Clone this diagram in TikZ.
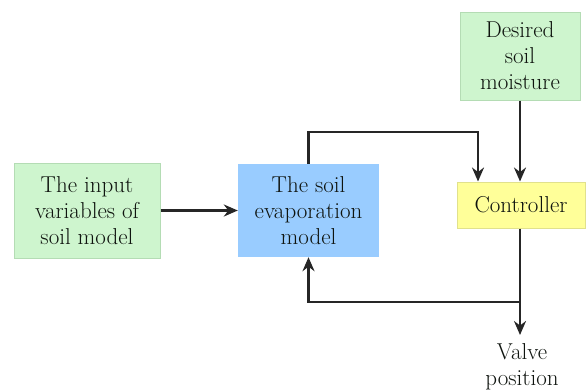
\documentclass[tikz,border=0pt]{standalone}
\usetikzlibrary{arrows.meta,calc}
\definecolor{gfill}{RGB}{206,245,206}
\definecolor{gdraw}{RGB}{180,220,180}
\definecolor{bfill}{RGB}{153,204,255}
\definecolor{yfill}{RGB}{255,255,153}
\definecolor{ydraw}{RGB}{225,225,140}
\definecolor{txt}{RGB}{15,20,15}
\begin{document}
\begin{tikzpicture}[x=1pt,y=-1pt,
  box/.style={rectangle, inner sep=0pt, align=center, text=txt,
    font=\fontsize{23}{26}\selectfont},
  conn/.style={line width=2.6pt, draw=black!85, -{Stealth[length=14pt,width=12pt]}}]
\useasboundingbox (0,0) rectangle (588,389);
\node[box, fill=gfill, draw=gdraw, line width=1pt, minimum width=146pt, minimum height=95pt] (inp) at (87,210.5) {The input\\variables of\\soil model};
\node[box, fill=bfill, minimum width=141pt, minimum height=93pt] (evap) at (308.5,210.5) {The soil\\evaporation\\model};
\node[box, fill=gfill, draw=gdraw, line width=1pt, minimum width=120pt, minimum height=88pt] (des) at (520,56) {Desired\\soil\\moisture};
\node[box, fill=yfill, draw=ydraw, line width=1pt, minimum width=128pt, minimum height=46pt] (ctrl) at (521,205) {Controller};
\node[box, anchor=north] (valve) at (522,343) {Valve\\position};
\coordinate (j) at (520,302);
\coordinate (top) at (308.5,132);
\draw[conn] (inp.east) -- (evap.west);
\draw[conn] (evap.north) -- (top) -| ($(ctrl.north)+(-43,0)$);
\draw[conn] (des.south -| j) -- (ctrl.north -| j);
\draw[conn] (ctrl.south -| j) -- ($(valve.north -| j)+(0,-8)$);
\draw[conn] (j) -| (evap.south);
\end{tikzpicture}
\end{document}
